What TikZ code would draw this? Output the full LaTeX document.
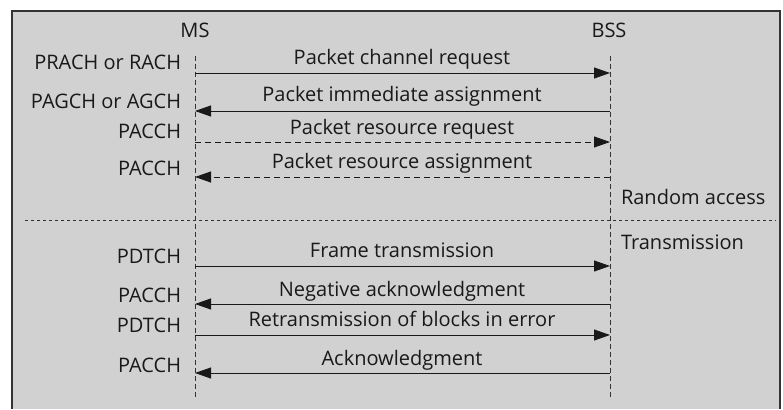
\documentclass[tikz,border=0pt]{standalone}
\usepackage{fontspec}
\setmainfont{Open Sans}
\usetikzlibrary{arrows.meta}
\begin{document}
\begin{tikzpicture}[x=1pt,y=-1pt,
  every node/.style={inner sep=0pt,outer sep=0pt,font=\fontsize{20}{22}\selectfont,text=black!90},
  lifeline/.style={black!80,line width=0.8pt,dash pattern=on 5pt off 3pt},
  msg/.style={black!90,line width=0.9pt,-{Triangle[length=16pt,width=11pt]}},
  dmsg/.style={msg,dash pattern=on 6pt off 4pt},
  chan/.style={anchor=base east},
  mtext/.style={anchor=base},
  phase/.style={anchor=base west}]
\useasboundingbox (0,0) rectangle (783,409);
\fill[black!18] (12,11) rectangle (780,409);
\draw[black!80,line width=1.2pt] (12,409) -- (12,11) -- (780,11) -- (780,409);
% actors
\node[mtext] (ms) at (195,38) {MS};
\node[mtext] (bss) at (609,38) {BSS};
\coordinate (mstop) at (195,56);
\coordinate (msbot) at (195,397);
\coordinate (bsstop) at (610,56);
\coordinate (bssbot) at (610,397);
\draw[lifeline] (mstop) -- (msbot);
\draw[lifeline] (bsstop) -- (bssbot);
% lifeline points
\foreach \n/\y in {1/73,2/111,3/142,4/177,5/266,6/304,7/335,8/373}{
  \coordinate (m\n) at (195,\y);
  \coordinate (b\n) at (610,\y);
}
% messages
\draw[msg] (m1) -- (b1);
\node[mtext] (t1) at (402,65) {Packet channel request};
\draw[msg] (b2) -- (m2);
\node[mtext] (t2) at (402,102) {Packet immediate assignment};
\draw[dmsg] (m3) -- (b3);
\node[mtext] (t3) at (402,134) {Packet resource request};
\draw[dmsg] (b4) -- (m4);
\node[mtext] (t4) at (402,168) {Packet resource assignment};
\draw[msg] (m5) -- (b5);
\node[mtext] (t5) at (402,257) {Frame transmission};
\draw[msg] (b6) -- (m6);
\node[mtext] (t6) at (402,296) {Negative acknowledgment};
\draw[msg] (m7) -- (b7);
\node[mtext] (t7) at (402,326) {Retransmission of blocks in error};
\draw[msg] (b8) -- (m8);
\node[mtext] (t8) at (402,365) {Acknowledgment};
% channels
\node[chan] (c1) at (181,70) {PRACH or RACH};
\node[chan] (c2) at (181,108) {PAGCH or AGCH};
\node[chan] (c3) at (181,138) {PACCH};
\node[chan] (c4) at (181,175) {PACCH};
\node[chan] (c5) at (181,263) {PDTCH};
\node[chan] (c6) at (181,302) {PACCH};
\node[chan] (c7) at (181,332) {PDTCH};
\node[chan] (c8) at (181,372) {PACCH};
% phases
\coordinate (sepL) at (25,220);
\coordinate (sepR) at (776,220);
\draw[black!80,line width=0.7pt,dash pattern=on 3pt off 3pt] (sepL) -- (sepR);
\node[phase] (ra) at (621,204) {Random access};
\node[phase] (tr) at (621,249) {Transmission};
\end{tikzpicture}
\end{document}
